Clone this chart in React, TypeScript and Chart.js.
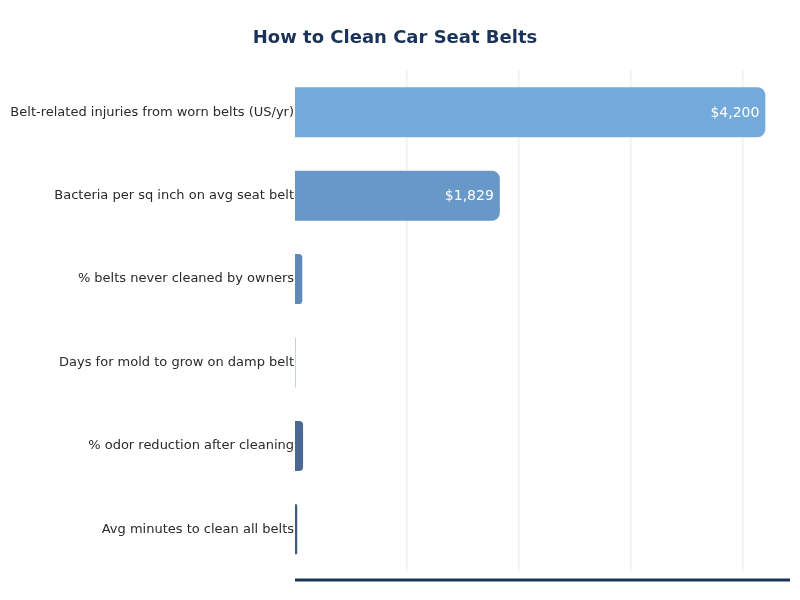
import { useEffect, useRef } from 'react';
import { Chart, ChartConfiguration, Plugin, registerables } from 'chart.js';

Chart.register(...registerables);

const categories = [
  'Belt-related injuries from worn belts (US/yr)',
  'Bacteria per sq inch on avg seat belt',
  '% belts never cleaned by owners',
  'Days for mold to grow on damp belt',
  '% odor reduction after cleaning',
  'Avg minutes to clean all belts',
];
const values = [4200, 1829, 65, 3, 72, 20];
const barColors = ['#74a9db', '#6898c8', '#5f89b9', '#55789f', '#4a6890', '#3d5a80'];
const xTicks = [1000, 2000, 3000, 4000];

const FONT = "'DejaVu Sans', sans-serif";
const NAVY = '#1b3358';

// white value labels at the end of bars that are wide enough
const valueLabels: Plugin<'bar'> = {
  id: 'valueLabels',
  afterDatasetsDraw(chart) {
    const { ctx } = chart;
    const meta = chart.getDatasetMeta(0);
    ctx.save();
    ctx.font = `14px ${FONT}`;
    ctx.fillStyle = '#ffffff';
    ctx.textAlign = 'right';
    ctx.textBaseline = 'middle';
    meta.data.forEach((bar: any, i) => {
      const text = '$' + values[i].toLocaleString('en-US');
      const w = bar.x - bar.base;
      if (w > ctx.measureText(text).width + 16) {
        ctx.fillText(text, bar.x - 6, bar.y + 1);
      }
    });
    ctx.restore();
  },
};

// thick baseline drawn a little below the plot area
const baseLine: Plugin<'bar'> = {
  id: 'baseLine',
  afterDraw(chart) {
    const { ctx, chartArea } = chart;
    ctx.save();
    ctx.strokeStyle = NAVY;
    ctx.lineWidth = 3;
    ctx.beginPath();
    ctx.moveTo(chartArea.left, chartArea.bottom + 9);
    ctx.lineTo(chartArea.right, chartArea.bottom + 9);
    ctx.stroke();
    ctx.restore();
  },
};

export default function App() {
  const canvasRef = useRef<HTMLCanvasElement>(null);

  useEffect(() => {
    if (!canvasRef.current) return;

    const config: ChartConfiguration<'bar'> = {
      type: 'bar',
      data: {
        labels: categories,
        datasets: [{
          data: values,
          backgroundColor: barColors,
          borderRadius: 8,
          borderSkipped: 'start',
          barPercentage: 0.75,
          categoryPercentage: 0.8,
        }],
      },
      options: {
        indexAxis: 'y',
        responsive: true,
        maintainAspectRatio: false,
        animation: false,
        layout: { padding: { left: 0, right: 10, top: 0, bottom: 29 } },
        plugins: {
          legend: { display: false },
          tooltip: { enabled: false },
          title: {
            display: true,
            text: 'How to Clean Car Seat Belts',
            color: NAVY,
            font: { family: FONT, size: 18, weight: 'bold' },
            padding: { top: 28, bottom: 21 },
          },
        },
        scales: {
          x: {
            min: 0,
            max: 4420,
            ticks: { display: false },
            afterBuildTicks: (scale: any) => {
              scale.ticks = xTicks.map((v) => ({ value: v }));
            },
            grid: { color: '#efefef', lineWidth: 1.5, drawTicks: false },
            border: { display: false },
          },
          y: {
            ticks: {
              color: '#2a2a2a',
              font: { family: FONT, size: 13 },
              padding: 1,
            },
            grid: { display: false, drawTicks: false },
            border: { display: false },
            afterFit: (scale: any) => { scale.width = 295; },
          },
        },
      },
      plugins: [valueLabels, baseLine],
    };

    const chart = new Chart(canvasRef.current, config);
    return () => chart.destroy();
  }, []);

  return (
    <div style={{ position: 'fixed', left: 0, top: 0, width: 800, height: 600, background: '#ffffff' }}>
      <canvas ref={canvasRef} />
    </div>
  );
}
